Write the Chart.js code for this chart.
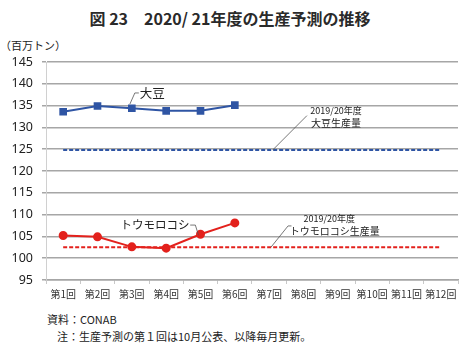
<!DOCTYPE html>
<html>
<head>
<meta charset="utf-8">
<script src="https://cdn.jsdelivr.net/npm/chart.js@4"></script>
<style>
    body { margin: 0; background: #fff; font-family: "Noto Sans CJK JP", "Noto Sans", sans-serif; color: #222; }
    #wrap { position: relative; width: 467px; height: 347px; overflow: hidden; }
    #box { position: absolute; left: 0; top: 0; width: 467px; height: 310px; }
    .txt { position: absolute; white-space: nowrap; }
    #title { left: 0; width: 460px; top: 6px; text-align: center; font-size: 16px; font-weight: bold; color: #2a2a2a; }
    #unit { left: 0; top: 37px; font-size: 11px; }
    #src { left: 47px; top: 311px; font-size: 11px; }
    #note { left: 57px; top: 328px; font-size: 11px; }
</style>
</head>
<body>
<div id="wrap">
    <div id="title" class="txt">図 23　2020/ 21年度の生産予測の推移</div>
    <div id="unit" class="txt">（百万トン）</div>
    <div id="box"><canvas id="chart"></canvas></div>
    <div id="src" class="txt">資料：CONAB</div>
    <div id="note" class="txt">注：生産予測の第１回は10月公表、以降毎月更新。</div>
</div>
<script>
    var rounds = ['第1回', '第2回', '第3回', '第4回', '第5回', '第6回', '第7回', '第8回', '第9回', '第10回', '第11回', '第12回'];
    var soy = [133.6, 134.9, 134.4, 133.8, 133.8, 135.1];
    var corn = [105.2, 104.9, 102.6, 102.3, 105.5, 108.1];
    var soyPrev = [124.8, 124.8, 124.8, 124.8, 124.8, 124.8, 124.8, 124.8, 124.8, 124.8, 124.8, 124.8];
    var cornPrev = [102.5, 102.5, 102.5, 102.5, 102.5, 102.5, 102.5, 102.5, 102.5, 102.5, 102.5, 102.5];
    var yTicks = [95, 100, 105, 110, 115, 120, 125, 130, 135, 140, 145];

    var blue = '#2f55a4';
    var red = '#e3211c';

    // labels and leader lines, placed in data coordinates
    var notes = {
        id: 'notes',
        afterDatasetsDraw: function(chart) {
            var ctx = chart.ctx;
            var xs = chart.scales.x, ys = chart.scales.y;
            function px(i) { return xs.getPixelForValue(i); }
            function py(v) { return ys.getPixelForValue(v); }
            ctx.save();
            ctx.strokeStyle = '#555';
            ctx.lineWidth = 0.8;
            ctx.fillStyle = '#222';
            ctx.textBaseline = 'middle';

            // 大豆
            ctx.beginPath();
            ctx.moveTo(px(2) - 2, py(soy[2]) - 4);
            ctx.lineTo(px(2) + 3, py(137.9));
            ctx.lineTo(px(2) + 7, py(137.9));
            ctx.stroke();
            ctx.font = '12.5px "Noto Sans CJK JP"';
            ctx.textAlign = 'left';
            ctx.fillText('大豆', px(2) + 8, py(137.9));

            // トウモロコシ
            ctx.beginPath();
            ctx.moveTo(px(3.7), py(107.6));
            ctx.lineTo(px(3.85), py(107.6));
            ctx.lineTo(px(4) - 2, py(corn[4]) + 1);
            ctx.stroke();
            ctx.font = '11.5px "Noto Sans CJK JP"';
            ctx.textAlign = 'right';
            ctx.fillText('トウモロコシ', px(3.68), py(107.6));

            // 2019/20 soybean
            ctx.beginPath();
            ctx.moveTo(px(6.1), py(soyPrev[6]));
            ctx.lineTo(px(7.1), py(132.7));
            ctx.stroke();
            ctx.textAlign = 'center';
            ctx.font = '9px "Noto Sans CJK JP"';
            ctx.fillText('2019/20年度', px(7.95), py(133.8));
            ctx.font = '10px "Noto Sans CJK JP"';
            ctx.fillText('大豆生産量', px(7.95), py(131.0));

            // 2019/20 corn
            ctx.beginPath();
            ctx.moveTo(px(6.05), py(cornPrev[6]));
            ctx.lineTo(px(6.55), py(107.4));
            ctx.lineTo(px(6.65), py(107.4));
            ctx.stroke();
            ctx.font = '9px "Noto Sans CJK JP"';
            ctx.fillText('2019/20年度', px(7.75), py(109.2));
            ctx.font = '10px "Noto Sans CJK JP"';
            ctx.textAlign = 'left';
            ctx.fillText('トウモロコシ生産量', px(6.6), py(106.2));
            ctx.restore();
        }
    };

    new Chart(document.getElementById('chart'), {
        type: 'line',
        data: {
            labels: rounds,
            datasets: [
                { data: soyPrev, borderColor: blue, borderWidth: 2, borderDash: [4, 2], pointRadius: 0, order: 3 },
                { data: cornPrev, borderColor: red, borderWidth: 2, borderDash: [4, 2], pointRadius: 0, order: 4 },
                { data: soy, borderColor: blue, backgroundColor: blue, borderWidth: 2, pointStyle: 'rect', pointRadius: 4, order: 1 },
                { data: corn, borderColor: red, backgroundColor: red, borderWidth: 2, pointStyle: 'circle', pointRadius: 3.5, order: 2 }
            ]
        },
        options: {
            responsive: true,
            maintainAspectRatio: false,
            animation: false,
            layout: { padding: { top: 62, right: 9, left: 0, bottom: 0 } },
            plugins: { legend: { display: false }, tooltip: { enabled: false } },
            scales: {
                x: {
                    offset: true,
                    grid: { offset: true, drawOnChartArea: false, color: '#c8c8c8', tickLength: 4 },
                    border: { color: '#a6a6a6', width: 1.5 },
                    ticks: { color: '#333', font: { size: 10, family: '"Noto Sans CJK JP"' }, padding: 4, maxRotation: 0, autoSkip: false },
                    afterFit: function(s) { s.height = 30; }
                },
                y: {
                    min: 95,
                    max: 145,
                    afterBuildTicks: function(s) { s.ticks = yTicks.map(function(v) { return { value: v }; }); },
                    grid: { color: '#a6a6a6', lineWidth: 1.5, tickLength: 4, drawTicks: true },
                    border: { color: '#d0d0d0', width: 1 },
                    ticks: { color: '#222', font: { size: 12.5, family: '"Noto Sans", sans-serif' }, padding: 9 },
                    afterFit: function(s) { s.width = 46; }
                }
            }
        },
        plugins: [notes]
    });
</script>
</body>
</html>
